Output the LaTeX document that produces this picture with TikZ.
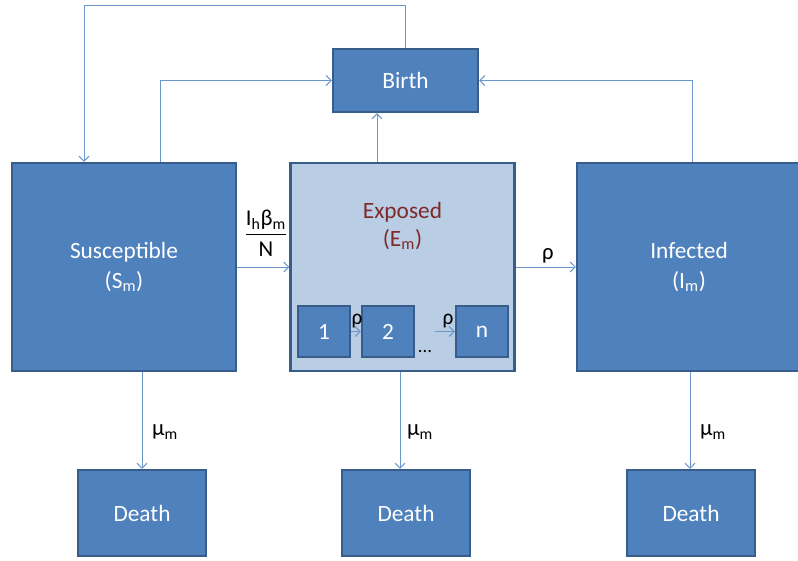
\documentclass[tikz,border=0pt]{standalone}
\usepackage{fontspec}
\setmainfont{Carlito}
\usetikzlibrary{arrows.meta}
\definecolor{boxfill}{HTML}{4F81BD}
\definecolor{boxline}{HTML}{385D8A}
\definecolor{expfill}{HTML}{B9CDE5}
\definecolor{arrowc}{HTML}{6A96CC}
\definecolor{expred}{HTML}{7F2A28}
\begin{document}
\begin{tikzpicture}[x=0.75pt,y=-0.75pt,
  box/.style={draw=boxline, line width=1.6pt, fill=boxfill, text=white,
    font=\fontsize{17.5}{22.5}\selectfont, align=center, inner sep=0pt},
  bigbox/.style={box, minimum width=168pt, minimum height=156pt},
  deathbox/.style={box, minimum width=96pt, minimum height=64.5pt},
  smallbox/.style={box, minimum width=39pt, minimum height=38.25pt},
  arr/.style={draw=arrowc, line width=0.75pt, -{Straight Barb[length=3.8pt,width=7.5pt]}},
  lbl/.style={text=black, font=\fontsize{17}{20}\selectfont, inner sep=0pt, align=center},
  slbl/.style={text=black, font=\fontsize{16}{18}\selectfont, inner sep=0pt}
]
\clip (0,0) rectangle (798,560);
% main boxes
\node[box, minimum width=108.75pt, minimum height=47.25pt] (B) at (405.5,80.5) {Birth};
\node[bigbox] (S) at (124,267) {Susceptible\\(S\textsubscript{m})};
\node[bigbox, fill=expfill] (E) at (402.5,267) {};
\node[bigbox] (I) at (689,267) {Infected\\(I\textsubscript{m})};
\node[text=expred, font=\fontsize{17.5}{21}\selectfont, align=center, inner sep=0pt] (Elbl) at (402.5,226) {Exposed\\(E\textsubscript{m})};
% small stage boxes
\node[smallbox] (n1) at (324,331.5) {1};
\node[smallbox] (n2) at (388,331.5) {2};
\node[smallbox] (nn) at (482,331.5) {n};
\node[lbl, font=\fontsize{14}{16}\selectfont] (dots) at (425,352) {...};
\coordinate (pre) at (435,331.5);
\draw[arr] (n1.east) -- (n2.west);
\draw[arr] (pre) -- (nn.west);
\node[slbl] (r1) at (357,321) {ρ};
\node[slbl] (r2) at (448,321) {ρ};
% death boxes
\node[deathbox] (D1) at (142,513) {Death};
\node[deathbox] (D2) at (406,513) {Death};
\node[deathbox] (D3) at (691,513) {Death};
% helper coordinates
\coordinate (tl) at (84,6);
\coordinate (sl) at (160,78);
\coordinate (ex) at (377,0);
\coordinate (ix) at (692,81);
\coordinate (x1) at (142,0);
\coordinate (x2) at (400,0);
\coordinate (x3) at (690,0);
% connectors to/from Birth
\draw[arr] (B.north) |- (tl) -- (S.north -| tl);
\draw[arr] (S.north -| sl) |- (B.west);
\draw[arr] (E.north -| ex) -- (B.south -| ex);
\draw[arr] (I.north -| ix) |- (B.east);
% horizontal flows
\draw[arr] (S.east) -- (E.west);
\draw[arr] (E.east) -- (I.west);
\node[lbl] (frac) at (266,236) {\begin{tabular}{@{}c@{}}I\textsubscript{h}β\textsubscript{m}\\[0pt]\hline\rule{0pt}{17pt}N\end{tabular}};
\node[lbl] (rho) at (548,256) {ρ};
% deaths
\draw[arr] (S.south -| x1) -- (D1.north -| x1);
\draw[arr] (E.south -| x2) -- (D2.north -| x2);
\draw[arr] (I.south -| x3) -- (D3.north -| x3);
\node[lbl] (m1) at (165,432) {μ\textsubscript{m}};
\node[lbl] (m2) at (420,432) {μ\textsubscript{m}};
\node[lbl] (m3) at (713,432) {μ\textsubscript{m}};
\end{tikzpicture}
\end{document}
